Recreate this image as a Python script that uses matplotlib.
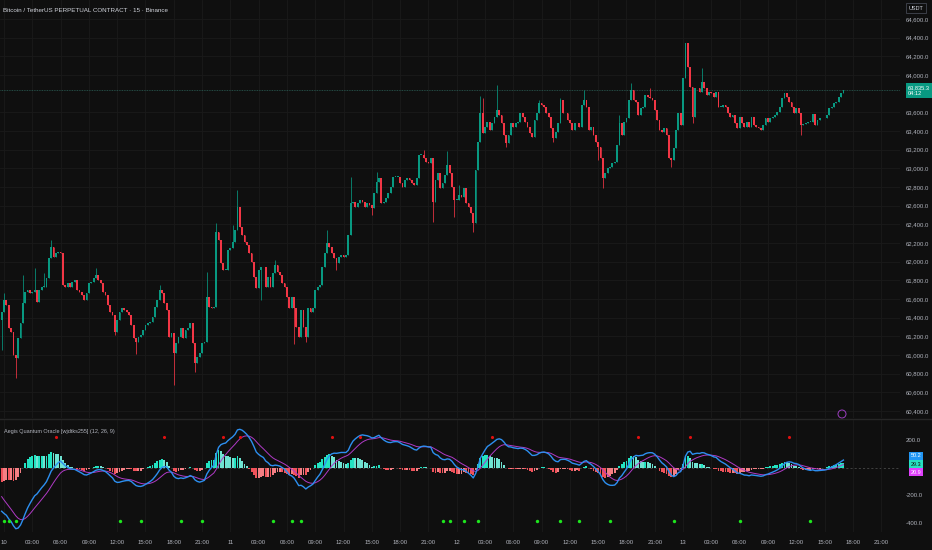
import numpy as np
import matplotlib
matplotlib.use('Agg')
import matplotlib.pyplot as plt
from matplotlib.transforms import blended_transform_factory
from matplotlib.patches import Ellipse

plt.rcParams['font.family'] = ['Liberation Sans Narrow', 'Liberation Sans', 'DejaVu Sans']

# ---- data (BTCUSDT.P, 15m, Binance) ----
first_index = -1          # candle index of the first close (0 = day 10 00:00)
first_open = 61380
closes = [
    61464, 61589, 61535, 61285, 61249, 60999, 60964, 61178, 61339, 61553,
    61678, 61696, 61660, 61678, 61696, 61571, 61696, 61731, 61731, 61821,
    62035, 62160, 62053, 62088, 62106, 62088, 61749, 61731, 61767, 61731,
    61785, 61803, 61696, 61678, 61642, 61589, 61660, 61767, 61785, 61821,
    61856, 61803, 61767, 61678, 61642, 61535, 61464, 61428, 61249, 61374,
    61464, 61499, 61481, 61464, 61428, 61321, 61178, 61142, 61196, 61214,
    61267, 61321, 61339, 61356,
    61410, 61517, 61589, 61696, 61660, 61553, 61481, 61196, 61232, 61017,
    61124, 61196, 61285, 61178, 61267, 61285, 61339, 61124, 60910, 60982,
    61017, 61124, 61142, 61624, 61517, 61499, 61517, 62321, 62231, 61981,
    61910, 61910, 62124, 62142, 62213, 62339, 62588, 62374, 62285, 62213,
    62178, 62088, 61999, 61839, 61714, 61910, 61939, 61946, 61731, 61839,
    61731, 61874, 61963, 61892, 61856, 61767, 61731, 61624, 61499, 61624,
    61499, 61303, 61196,
    61482, 61303, 61196, 61500, 61464, 61500, 61696, 61732, 61750, 61946,
    62089, 62196, 62160, 62089, 62035, 61982, 62053, 62071, 62053, 62071,
    62285, 62624, 62642, 62589, 62624, 62660, 62642, 62589, 62624, 62607,
    62571, 62732, 62857, 62892, 62624, 62642, 62678, 62732, 62803, 62910,
    62910, 62910, 62839, 62803, 62875, 62892, 62875, 62839, 62821, 62892,
    63142, 63142, 63107, 63071, 63053, 63107, 62642, 62875, 62946, 62785,
    62839, 62928, 63035,
    62946, 62803, 62660, 62660, 62714, 62696, 62785, 62625, 62589, 62518,
    62410, 62982, 63285, 63589, 63375, 63446, 63500, 63410, 63482, 63553,
    63625, 63571, 63482, 63357, 63268, 63357, 63482, 63446, 63482, 63500,
    63589, 63553, 63500, 63446, 63375, 63339, 63517, 63589, 63696, 63678,
    63660, 63589, 63553, 63428, 63321, 63393, 63482, 63732, 63589, 63589,
    63517, 63482, 63410, 63482, 63482, 63446, 63678, 63732, 63660, 63410,
    63446, 63357, 63285, 63232,
    63107, 62892, 62946, 63000, 63017, 63053, 63071, 63250, 63482, 63357,
    63500, 63535, 63732, 63839, 63732, 63714, 63571, 63642, 63660, 63785,
    63767, 63750, 63732, 63625, 63517, 63410, 63392, 63428, 63357, 63107,
    63089, 63214, 63410, 63589, 63464, 63964, 64339, 64089, 63875, 63553,
    63857, 63857, 63821, 63928, 63857, 63785, 63821, 63803, 63767, 63821,
    63660, 63660, 63678, 63660, 63589, 63553, 63571, 63482, 63428, 63553,
    63482, 63446, 63500, 63446,
    63553, 63463, 63445, 63428, 63410, 63463, 63535, 63499, 63535, 63553,
    63570, 63606, 63660, 63749, 63803, 63767, 63713, 63660, 63588, 63642,
    63588, 63463, 63470, 63481, 63499, 63499, 63578, 63463, 63517, 63535,
    63542, 63535, 63570, 63642, 63660, 63695, 63713, 63767, 63803, 63835,
]
wick_highs = {0: 61660, 8: 61860, 13: 61930, 17: 61875, 20: 62230, 39: 61930,
              66: 61750, 86: 61890, 90: 62410, 97: 62390, 99: 62770, 115: 62020,
              137: 62340, 147: 62910, 158: 62960, 178: 63200, 188: 63180,
              189: 63020, 193: 62820, 202: 63770, 203: 63750, 209: 63890,
              227: 63730, 236: 63750, 246: 63840,
              261: 63570, 266: 63910, 274: 63860, 289: 64340, 296: 64070}
wick_lows = {-1: 61050, 5: 60750, 47: 61210, 56: 61010,
             72: 60680, 81: 60820, 109: 61590, 123: 61120,
             128: 61140, 141: 61910, 156: 62500, 182: 62430,
             191: 62480, 199: 62320, 213: 63230, 233: 63285, 252: 63090,
             254: 62785, 283: 63017, 292: 63480, 338: 63356}

# indicator state before the first visible candle (fast EMA, slow EMA, signal)
ema_seed = (62200, 62480, -185)
sell_dots = [22, 68, 93, 100, 139, 151, 207, 269, 291, 333]
buy_dots = [0, 2, 5, 49, 58, 75, 84, 114, 122, 126, 186, 189, 195, 201,
            226, 236, 244, 257, 284, 312, 342]
last_vals = ['50.2', '29.3', '20.9']     # macd, histogram, signal
last_price = 63835.3
countdown = '04:12'

days = ['10', '11', '12', '13']
hours = ['03:00', '06:00', '09:00', '12:00', '15:00', '18:00', '21:00']
time_labels = [lab for d in days for lab in [d] + hours]
price_ticks = [60400, 60600, 60800, 61000, 61200, 61400, 61600, 61800, 62000,
               62200, 62400, 62600, 62800, 63000, 63200, 63400, 63600, 64000,
               64200, 64400, 64600]
osc_ticks = [200, -200, -400]

# ---- styling ----
BG = '#0f0f0f'
UP, DOWN = '#089981', '#f23645'
TXT = '#b2b5be'
GRID = '#1a1a1a'
W, H = 932, 550


def frac(x0, y0, x1, y1):
    return [x0 / W, 1 - y1 / H, (x1 - x0) / W, (y1 - y0) / H]


fig = plt.figure(figsize=(W / 100, H / 100), dpi=100, facecolor=BG)
ax = fig.add_axes(frac(0, 0, 900, 418), facecolor=BG)
ax2 = fig.add_axes(frac(0, 420, 900, 532), facecolor=BG, sharex=ax)

idx = np.arange(first_index, first_index + len(closes))
c = np.array(closes, dtype=float)
o = np.r_[first_open, c[:-1]]
hi = np.maximum(o, c)
lo = np.minimum(o, c)
for k, v in wick_highs.items():
    hi[k - first_index] = max(hi[k - first_index], v)
for k, v in wick_lows.items():
    lo[k - first_index] = min(lo[k - first_index], v)
col = np.where(c >= o, UP, DOWN)

ax.vlines(idx, lo, hi, colors=col, lw=0.55, zorder=3)
ax.bar(idx, np.maximum(np.abs(c - o), 6), bottom=np.minimum(o, c), width=0.76,
       color=col, lw=0, zorder=4)

ax.set_xlim(-1.7, 380)
ax.set_ylim(60325, 64803)
ax.axhline(last_price, color='#2b5f56', lw=0.6, ls=(0, (1, 1)), zorder=2)

xt = [12 * k for k in range(len(time_labels))]
for a in (ax, ax2):
    a.set_xticks(xt)
    a.grid(axis='x', color=GRID, lw=0.6)
    for s in a.spines.values():
        s.set_visible(False)
    a.tick_params(length=0, colors=TXT, labelsize=4.3)
ax.tick_params(labelbottom=False)
ax.yaxis.tick_right()
ax.set_yticks(price_ticks)
ax.set_yticklabels([f'{p:,.1f}' for p in price_ticks])
ax.tick_params(axis='y', pad=4)
ax.grid(axis='y', color=GRID, lw=0.6)

yt = blended_transform_factory(ax.transAxes, ax.transData)
ax.text(1.0085, last_price, f'{last_price:,.1f}\n{countdown}', transform=yt,
        ha='left', va='center', fontsize=4.1, color='white', linespacing=1.15,
        bbox=dict(boxstyle='square,pad=0.35', fc=UP, ec='none'), clip_on=False)

fig.text(3 / W, 1 - 10 / H, 'Bitcoin / TetherUS PERPETUAL CONTRACT · 15 · Binance',
         color='#d1d4dc', fontsize=4.5, va='center', ha='left')
fig.text(916 / W, 1 - 8 / H, 'USDT', color='#d1d4dc', fontsize=4.0, ha='center',
         va='center', bbox=dict(boxstyle='square,pad=0.5', fc=BG, ec='#434651', lw=0.6))

# ---- oscillator (12, 26, 9) ----
fast, slow, sig = ema_seed
macd, signal = [], []
for p in c:
    fast += (p - fast) * 2 / 13
    slow += (p - slow) * 2 / 27
    m = fast - slow
    sig += (m - sig) * 2 / 10
    macd.append(m)
    signal.append(sig)
macd = np.array(macd)
signal = np.array(signal)
hist = macd - signal
prev = np.r_[hist[0], hist[:-1]]
hcol = np.where(hist >= 0, np.where(hist >= prev, '#22e3c2', '#6fe3d2'),
                np.where(hist <= prev, '#f0525a', '#f47f84'))
ax2.bar(idx, hist, width=0.78, color=hcol, lw=0, zorder=2)
ax2.axhline(0, color='#555555', lw=0.5, ls=(0, (3, 3)), zorder=1)
ax2.plot(idx, signal, color='#b03ac6', lw=0.7, zorder=3)
ax2.plot(idx, macd, color='#2d8ff0', lw=1.0, zorder=4)
ax2.set_ylim(-469, 345.5)

bt = blended_transform_factory(ax2.transData, ax2.transAxes)
ax2.scatter(sell_dots, [0.85] * len(sell_dots), s=5, color='#e01010', transform=bt,
            zorder=5, lw=0)
ax2.scatter(buy_dots, [0.095] * len(buy_dots), s=6, color='#1ee61e', transform=bt,
            zorder=5, lw=0)

ax2.yaxis.tick_right()
ax2.set_yticks(osc_ticks)
ax2.set_yticklabels([f'{v:.1f}' for v in osc_ticks])
ax2.tick_params(axis='y', pad=4)
ax2.set_xticklabels(time_labels)
ax2.tick_params(axis='x', pad=6)

yt2 = blended_transform_factory(ax2.transAxes, ax2.transData)
for txt, yv, fc, tc in zip(last_vals, [86, 25, -33], ['#2196f3', '#26e0c0', '#e040fb'],
                           ['white', '#0f0f0f', 'white']):
    ax2.text(1.012, yv, txt, transform=yt2, ha='left', va='center', fontsize=4.0,
             color=tc, bbox=dict(boxstyle='square,pad=0.3', fc=fc, ec='none'),
             clip_on=False)

ax2.text(0.004, 0.9, 'Aegis Quantum Oracle [wjdtks255] (12, 26, 9)',
         transform=ax2.transAxes, color=TXT, fontsize=4.0, va='center')

fig.add_artist(plt.Line2D([0, 1], [1 - 419 / H] * 2, color='#262626', lw=1,
                          transform=fig.transFigure))
fig.add_artist(Ellipse((842 / W, 1 - 414 / H), 8 / W, 8 / H, fill=False,
                       ec='#9c3fc0', lw=0.7, transform=fig.transFigure))

fig.savefig('out.png', dpi=100, facecolor=BG)
